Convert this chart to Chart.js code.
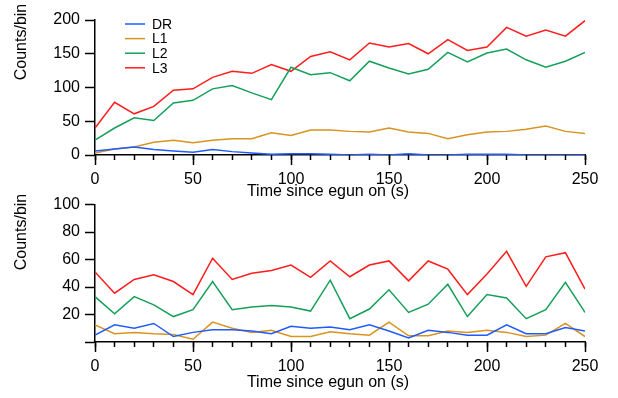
<!DOCTYPE html>
<html>
<head>
<meta charset="utf-8">
<script src="https://cdn.jsdelivr.net/npm/chart.js@4.4.0/dist/chart.umd.min.js"></script>
<style>
  body { margin: 0; background: #fff; }
  #wrap { position: relative; width: 618px; height: 398px; }
  .panel { position: absolute; left: 0; }
</style>
</head>
<body>
<div id="wrap">
  <canvas id="topChart" class="panel" width="618" height="210" style="top:0"></canvas>
  <canvas id="bottomChart" class="panel" width="618" height="208" style="top:190px"></canvas>
</div>
<script>
// DATA
const times = [0, 10, 20, 30, 40, 50, 60, 70, 80, 90, 100, 110, 120, 130, 140, 150, 160, 170, 180, 190, 200, 210, 220, 230, 240, 250];
const seriesNames = ['DR', 'L1', 'L2', 'L3'];
const seriesColors = ['#1f5bff', '#d8941f', '#15a05a', '#ff1c1c'];

// top panel
const topDR = [6, 9, 12, 8, 6, 4, 8, 5, 3, 1, 2, 2, 1, 0, 1, 0, 2, 0, 0, 1, 1, 1, 0, 0, 0, 0];
const topL1 = [3, 9, 12, 19, 22, 18, 22, 24, 24, 33, 29, 37, 37, 35, 34, 40, 34, 32, 24, 30, 34, 35, 38, 43, 35, 32];
const topL2 = [22, 40, 55, 51, 77, 81, 98, 103, 92, 82, 130, 119, 122, 110, 139, 129, 120, 127, 152, 138, 151, 157, 141, 130, 139, 152];
const topL3 = [40, 78, 61, 72, 96, 98, 115, 124, 121, 134, 124, 146, 153, 141, 166, 160, 165, 150, 171, 155, 160, 189, 176, 185, 176, 199];

// bottom panel
const botDR = [5, 12.5, 10, 13.5, 4, 7, 9, 9, 8, 6, 11.5, 10, 11, 9, 12.5, 8, 3, 8.5, 7, 5, 5, 12.5, 6, 6, 10.5, 8];
const botL1 = [12.5, 6, 7, 6, 5.5, 2, 14.5, 10, 7, 8.5, 4, 4, 7.5, 6, 5, 14.5, 4.5, 4.5, 8, 7, 8.5, 7, 4, 5, 13.5, 4];
const botL2 = [33, 20.5, 33, 27, 18.5, 23.5, 44, 23.5, 25.5, 26.5, 25.5, 22.5, 45, 17, 24, 38, 21.5, 27.5, 42, 18.5, 34.5, 32, 17, 23.5, 43.5, 21.5];
const botL3 = [51, 35.5, 45.5, 49, 44, 34.5, 61, 45.5, 50, 52, 56, 47, 59, 47.5, 56, 59, 44.5, 59, 53, 34.5, 49.5, 66, 40.5, 62, 65, 38.5];

const xTitle = 'Time since egun on (s)';
const yTitle = 'Counts/bin';
const FONT = 'Liberation Sans, Arial, Helvetica, sans-serif';

function makeDatasets(arrays) {
    return arrays.map((vals, i) => ({
        label: seriesNames[i],
        data: vals.map((v, j) => ({ x: times[j], y: v })),
        borderColor: seriesColors[i],
        borderWidth: 1.5,
        pointRadius: 0,
        tension: 0,
        xAxisID: 'x'
    }));
}

// axis titles drawn at fixed spots like the original
const axisTitles = {
    id: 'axisTitles',
    afterDraw(chart, args, opts) {
        const ctx = chart.ctx;
        ctx.save();
        ctx.font = '16px ' + FONT;
        ctx.fillStyle = '#000';
        ctx.textAlign = 'center';
        ctx.textBaseline = 'middle';
        ctx.fillText(xTitle, 328, opts.xTitleY);
        ctx.translate(22, 42);
        ctx.rotate(-Math.PI / 2);
        ctx.fillText(yTitle, 0, 0);
        ctx.restore();
    }
};

// legend box inside the top plot
const innerLegend = {
    id: 'innerLegend',
    afterDraw(chart) {
        const ctx = chart.ctx;
        const x0 = chart.chartArea.left + 30;
        const y0 = chart.chartArea.top + 4;
        ctx.save();
        ctx.font = '14px ' + FONT;
        ctx.textBaseline = 'middle';
        chart.data.datasets.forEach((ds, i) => {
            const y = y0 + i * 14.6;
            ctx.strokeStyle = ds.borderColor;
            ctx.lineWidth = 1.5;
            ctx.beginPath();
            ctx.moveTo(x0, y);
            ctx.lineTo(x0 + 20, y);
            ctx.stroke();
            ctx.fillStyle = '#000';
            ctx.fillText(ds.label, x0 + 27, y + 1);
        });
        ctx.restore();
    }
};

function makeOptions(yMax, yStep, showZero, padTop, axisH, titleY) {
    return {
        responsive: false,
        animation: false,
        layout: { padding: { top: padTop, right: 33, left: 0, bottom: 0 } },
        plugins: { legend: { display: false }, tooltip: { enabled: false }, axisTitles: { xTitleY: titleY } },
        scales: {
            x: {
                type: 'linear', min: 0, max: 250, position: 'bottom', weight: 1,
                border: { color: '#000', width: 1.5 },
                grid: { drawOnChartArea: false, tickLength: 10, tickColor: '#000', tickWidth: 1.5 },
                ticks: { stepSize: 50, padding: 5, color: '#000', font: { family: FONT, size: 16 } },
                afterFit: s => { s.height = axisH; }
            },
            // minor ticks every 10 s
            xm: {
                type: 'linear', min: 0, max: 250, position: 'bottom', weight: 0,
                border: { display: false },
                grid: { drawOnChartArea: false, tickLength: 5, tickColor: '#000', tickWidth: 1.5 },
                ticks: { stepSize: 10, display: false },
                afterFit: s => { s.height = 0; }
            },
            y: {
                min: 0, max: yMax,
                border: { color: '#000', width: 1.5 },
                grid: { drawOnChartArea: false, tickLength: 10, tickColor: '#000', tickWidth: 1.5 },
                ticks: {
                    stepSize: yStep, padding: 5, color: '#000', font: { family: FONT, size: 16 },
                    callback: v => (v === 0 && !showZero) ? '' : v
                },
                afterFit: s => { s.width = 95; }
            }
        }
    };
}

new Chart(document.getElementById('topChart'), {
    type: 'line',
    data: { datasets: makeDatasets([topDR, topL1, topL2, topL3]) },
    options: makeOptions(200, 50, true, 20, 55, 192),
    plugins: [axisTitles, innerLegend]
});

new Chart(document.getElementById('bottomChart'), {
    type: 'line',
    data: { datasets: makeDatasets([botDR, botL1, botL2, botL3]) },
    options: makeOptions(100, 20, false, 13, 56, 192.5),
    plugins: [axisTitles]
});
</script>
</body>
</html>
